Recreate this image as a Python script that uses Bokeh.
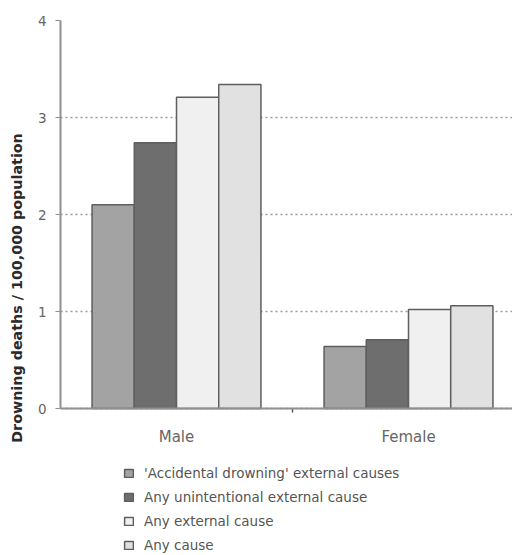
from bokeh.plotting import figure
from bokeh.models import (Range1d, FixedTicker, Legend, LegendItem,
                          ColumnDataSource, Span)
from bokeh.core.properties import value
from bokeh.embed import file_html
from bokeh.resources import INLINE

categories = ["Male", "Female"]
series_names = ["'Accidental drowning' external causes",
                "Any unintentional external cause",
                "Any external cause",
                "Any cause"]
accidental = [2.10, 0.64]
unintentional = [2.74, 0.71]
any_external = [3.21, 1.02]
any_cause = [3.34, 1.06]
y_ticks = [0, 1, 2, 3, 4]
colors = ["#a3a3a3", "#6e6e6e", "#f0f0f0", "#e1e1e1"]

series_values = [accidental, unintentional, any_external, any_cause]

FONT = "DejaVu Sans"

PLOT_H = 388          # pixel height of the 0..4 value area
FRAME_H = 535         # frame continues below 0 to hold the legend
y_top = max(y_ticks)
y_bottom = -(FRAME_H - PLOT_H) * y_top / PLOT_H

p = figure(frame_width=452, frame_height=FRAME_H, output_backend="svg",
           toolbar_location=None, x_axis_location=None,
           x_range=Range1d(0, 452 / 232), y_range=Range1d(y_bottom, y_top),
           min_border_top=20, min_border_left=60, min_border_right=0,
           min_border_bottom=0)

bar_w = 0.182
renderers = []
for j, (name, vals) in enumerate(zip(series_names, series_values)):
    xs = [i + 0.5 + (j - 1.5) * bar_w for i in range(len(categories))]
    src = ColumnDataSource(dict(x=xs, top=vals))
    r = p.vbar(x="x", top="top", width=bar_w, bottom=0, source=src,
               fill_color=colors[j], line_color="#5e5e5e", line_width=1.5)
    renderers.append(r)

# y axis
p.yaxis.ticker = FixedTicker(ticks=y_ticks, minor_ticks=[])
p.yaxis.bounds = (0, y_top)
p.yaxis.axis_label = "Drowning deaths / 100,000 population"
p.yaxis.axis_label_text_font = FONT
p.yaxis.axis_label_text_font_style = "bold"
p.yaxis.axis_label_text_font_size = "14.3px"
p.yaxis.axis_label_text_color = "#2a2a2a"
p.yaxis.axis_label_standoff = 10
p.yaxis.major_label_text_font = FONT
p.yaxis.major_label_text_font_size = "13.5px"
p.yaxis.major_label_text_color = "#666666"
p.yaxis.major_label_standoff = 9
p.yaxis.major_tick_out = 5
p.yaxis.major_tick_in = 0
p.yaxis.axis_line_color = "#909090"
p.yaxis.axis_line_width = 2
p.yaxis.major_tick_line_color = "#909090"

# grid
for g in p.xgrid:
    g.visible = False
p.ygrid.grid_line_color = "#9a9a9a"
p.ygrid.grid_line_dash = "2 3"
p.ygrid.grid_line_width = 1.5
p.outline_line_color = None

# category axis at value 0
boundaries = [i + 1.0 for i in range(len(categories) - 1)]
p.segment(x0=boundaries, y0=[0] * len(boundaries),
          x1=boundaries, y1=[-4 * y_top / PLOT_H] * len(boundaries),
          line_color="#555555", line_width=1.5)
p.add_layout(Span(location=0, dimension="width", line_color="#909090",
                  line_width=2))
centers = [i + 0.5 for i in range(len(categories))]
lab_src = ColumnDataSource(dict(x=centers, y=[0] * len(categories),
                                text=categories))
p.text(x="x", y="y", text="text", source=lab_src, y_offset=19,
       text_align="center", text_baseline="top",
       text_font=value(FONT), text_font_size="15px", text_color="#666666")

legend = Legend(items=[LegendItem(label=n, renderers=[r]) for n, r in zip(series_names, renderers)],
                location=(63, 2), orientation="vertical",
                glyph_width=11, glyph_height=10, label_height=10,
                label_text_font=FONT, label_text_font_size="13.5px",
                label_text_color="#555555", label_standoff=10,
                spacing=8, padding=0, margin=0,
                border_line_color=None, background_fill_alpha=0)
p.add_layout(legend, "center")

open("out.html", "w").write(file_html(p, INLINE))
